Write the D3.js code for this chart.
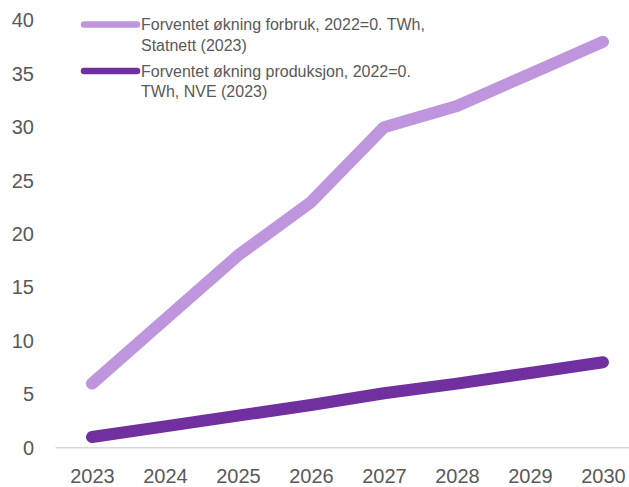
<!DOCTYPE html>
<html>
<head>
<meta charset="utf-8">
<script src="https://cdn.jsdelivr.net/npm/d3@7"></script>
<style>
  body { margin: 0; background: #fff; }
  svg { display: block; font-family: "Liberation Sans", Arial, sans-serif; }
</style>
</head>
<body>
<div id="chart"></div>
<script>
// data
var years = ["2023", "2024", "2025", "2026", "2027", "2028", "2029", "2030"];
var forbruk = [6, 12, 18, 23, 30, 32, 35, 38];
var produksjon = [1, 2, 3, 4, 5.1, 6, 7, 8];
var yTicks = [0, 5, 10, 15, 20, 25, 30, 35, 40];
var legendLabels = [
  ["Forventet økning forbruk, 2022=0. TWh,", "Statnett (2023)"],
  ["Forventet økning produksjon, 2022=0.", "TWh, NVE (2023)"]
];

var width = 629, height = 487;
var colors = ["#BF95DD", "#7030A0"];

var svg = d3.select("#chart")
  .append("svg")
  .attr("width", width)
  .attr("height", height);

var x = d3.scalePoint()
  .domain(years)
  .range([92, 603]);

var y = d3.scaleLinear()
  .domain([0, 40])
  .range([447.7, 20.5]);

// baseline
var step = x.step();
svg.append("line")
  .attr("x1", x(years[0]) - step / 2)
  .attr("x2", x(years[years.length - 1]) + step / 2)
  .attr("y1", y(0))
  .attr("y2", y(0))
  .style("stroke", "#D9D9D9")
  .style("stroke-width", 1.5);

// Y axis
var yAxis = svg.append("g")
  .attr("transform", "translate(36,0)")
  .call(d3.axisLeft(y).tickValues(yTicks).tickSize(0).tickPadding(2));
yAxis.select(".domain").remove();
yAxis.selectAll("text")
  .style("font-size", "20px")
  .style("fill", "#595959")
  .style("font-family", "\"Liberation Sans\", Arial, sans-serif");

// X axis
var xAxis = svg.append("g")
  .attr("transform", "translate(0," + y(0) + ")")
  .call(d3.axisBottom(x).tickSize(0).tickPadding(21));
xAxis.select(".domain").remove();
xAxis.selectAll("text")
  .style("font-size", "20px")
  .style("fill", "#595959")
  .style("font-family", "\"Liberation Sans\", Arial, sans-serif");

// lines
var line = d3.line()
  .x(function(d, i) { return x(years[i]); })
  .y(function(d) { return y(d); });

[forbruk, produksjon].forEach(function(series, i) {
  svg.append("path")
    .datum(series)
    .attr("d", line)
    .style("fill", "none")
    .style("stroke", colors[i])
    .style("stroke-width", 12)
    .style("stroke-linecap", "round")
    .style("stroke-linejoin", "round");
});

// legend
var legend = svg.selectAll("g.legend")
  .data(legendLabels)
  .join("g")
  .attr("class", "legend")
  .attr("transform", function(d, i) { return "translate(0," + (24.5 + i * 46.5) + ")"; });

legend.append("line")
  .attr("x1", 84)
  .attr("x2", 137)
  .attr("y1", 0)
  .attr("y2", 0)
  .style("stroke", function(d, i) { return colors[i]; })
  .style("stroke-width", 6.5)
  .style("stroke-linecap", "round");

legend.append("text")
  .attr("x", 141)
  .attr("y", 0)
  .style("font-size", "16px")
  .style("font-family", "\"Liberation Sans\", sans-serif")
  .style("fill", "#595959")
  .selectAll("tspan")
  .data(function(d) { return d; })
  .join("tspan")
  .attr("x", 141)
  .attr("dy", function(d, i) { return i === 0 ? "0.35em" : "20.5px"; })
  .text(function(d) { return d; });
</script>
</body>
</html>
